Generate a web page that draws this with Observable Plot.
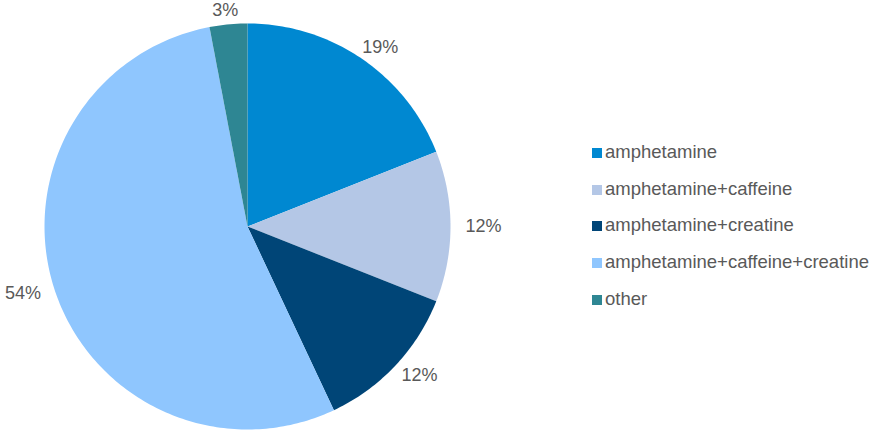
<!DOCTYPE html>
<html>
<head>
<meta charset="utf-8">
<script src="https://cdn.jsdelivr.net/npm/d3@7"></script>
<script src="https://cdn.jsdelivr.net/npm/@observablehq/plot@0.6"></script>
<style>
  body { margin: 0; background: #fff; font-family: "Liberation Sans", Arial, sans-serif; }
  #wrap { position: relative; width: 870px; height: 430px; }
  #legend { position: absolute; left: 592px; top: 135px; }
  .row { position: absolute; left: 0; white-space: nowrap; height: 20px; line-height: 20px; font-size: 18.5px; color: #595959; }
  .sw { position: absolute; left: 0; top: 5px; width: 10px; height: 10px; }
  .lb { position: absolute; left: 13px; top: -1px; }
</style>
</head>
<body>
<div id="wrap"><div id="legend"></div></div>
<script>
const categories = ["amphetamine", "amphetamine+caffeine", "amphetamine+creatine", "amphetamine+caffeine+creatine", "other"];
const values = [19, 12, 12, 54, 3];
const colors = ["#0088d1", "#b4c7e6", "#004577", "#8fc6fe", "#2e8693"];

const total = d3.sum(values);
const slices = [];
let acc = 0;
categories.forEach((c, i) => {
  const a0 = acc / total * 2 * Math.PI;
  acc += values[i];
  const a1 = acc / total * 2 * Math.PI;
  const n = Math.max(4, Math.ceil((a1 - a0) / (Math.PI / 180)));
  const ring = [[0, 0]];
  for (let k = 0; k <= n; k++) {
    const a = a0 + (a1 - a0) * k / n;
    ring.push([Math.sin(a), Math.cos(a)]);
  }
  ring.push([0, 0]);
  slices.push({type: "Feature", properties: {name: c, value: values[i], a0, a1}, geometry: {type: "Polygon", coordinates: [ring]}});
});

const R = 203;
const labels = slices.map(s => {
  const am = (s.properties.a0 + s.properties.a1) / 2;
  const ux = Math.sin(am), uy = Math.cos(am);
  return {
    text: s.properties.value + "%",
    x: ux * (1 + 33 / R),
    y: uy * (1 + 14 / R)
  };
});

const plot = Plot.plot({
  width: 870,
  height: 430,
  marginLeft: 44,
  marginRight: 420,
  marginTop: 23,
  marginBottom: 1,
  projection: {type: "reflect-y", clip: false, domain: {type: "MultiPoint", coordinates: [[-1, -1], [1, 1]]}},
  color: {domain: categories, range: colors},
  style: {fontFamily: "'Liberation Sans', Arial, sans-serif", overflow: "visible"},
  marks: [
    Plot.geo(slices, {fill: d => d.properties.name}),
    Plot.text(labels, {x: "x", y: "y", text: "text", fill: "#595959", fontSize: 18, textAnchor: "middle", lineAnchor: "middle"})
  ]
});
document.getElementById("wrap").prepend(plot);

const legend = document.getElementById("legend");
categories.forEach((c, i) => {
  const row = document.createElement("div");
  row.className = "row";
  row.style.top = (8 + i * 36.7) + "px";
  row.innerHTML = `<span class="sw" style="background:${colors[i]}"></span><span class="lb">${c}</span>`;
  legend.appendChild(row);
});
</script>
</body>
</html>
